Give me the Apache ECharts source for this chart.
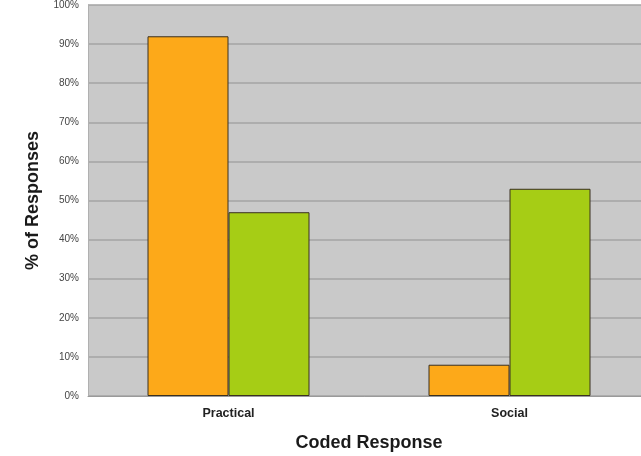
<!DOCTYPE html>
<html>
<head>
<meta charset="utf-8">
<script src="https://cdn.jsdelivr.net/npm/echarts@6/dist/echarts.min.js"></script>
<style>
  html, body { margin: 0; padding: 0; background: #fff; }
  #chart { width: 641px; height: 456px; }
</style>
</head>
<body>
<div id="chart"></div>
<script>
// Coded responses and the share of responses in each group
const categories = ['Practical', 'Social'];
const groupA = [92, 8];
const groupB = [47, 53];
const yTicks = [0, 10, 20, 30, 40, 50, 60, 70, 80, 90, 100];

const chart = echarts.init(document.getElementById('chart'), null, { renderer: 'canvas' });

const barStyle = (color) => ({
  color: color,
  borderColor: '#3a3020',
  borderWidth: 1
});

chart.setOption({
  animation: false,
  backgroundColor: '#ffffff',
  textStyle: { fontFamily: 'Liberation Sans, Arial, sans-serif' },
  grid: {
    left: 88,
    top: 5,
    width: 562,
    height: 391,
    outerBoundsMode: 'none',
    containLabel: false,
    show: true,
    backgroundColor: '#c9c9c9',
    borderColor: '#c0c0c0',
    borderWidth: 0
  },
  xAxis: {
    type: 'category',
    data: categories,
    name: 'Coded Response',
    nameLocation: 'middle',
    nameGap: 38,
    nameTextStyle: { fontWeight: 'bold', fontSize: 18, color: '#1a1a1a' },
    axisLine: { show: true, lineStyle: { color: '#9a9a9a', width: 1 } },
    axisTick: { show: false },
    axisLabel: { fontWeight: 'bold', fontSize: 12.5, color: '#222', margin: 11 }
  },
  yAxis: {
    type: 'value',
    min: yTicks[0],
    max: yTicks[yTicks.length - 1],
    interval: 10,
    name: '% of Responses',
    nameLocation: 'middle',
    nameGap: 40,
    nameRotate: 90,
    nameTextStyle: { fontWeight: 'bold', fontSize: 18, color: '#1a1a1a' },
    axisLine: { show: true, lineStyle: { color: '#b0b0b0', width: 1 } },
    axisTick: { show: false },
    axisLabel: {
      fontSize: 10,
      color: '#444',
      margin: 9,
      formatter: (v) => v + '%'
    },
    splitLine: { show: true, lineStyle: { color: '#a3a3a3', width: 1.5 } }
  },
  series: [
    {
      type: 'bar',
      data: groupA,
      barWidth: 81,
      barGap: '0%',
      itemStyle: barStyle('#fda919')
    },
    {
      type: 'bar',
      data: groupB,
      barWidth: 81,
      barGap: '0%',
      itemStyle: barStyle('#a6cd15')
    }
  ]
});
</script>
</body>
</html>
